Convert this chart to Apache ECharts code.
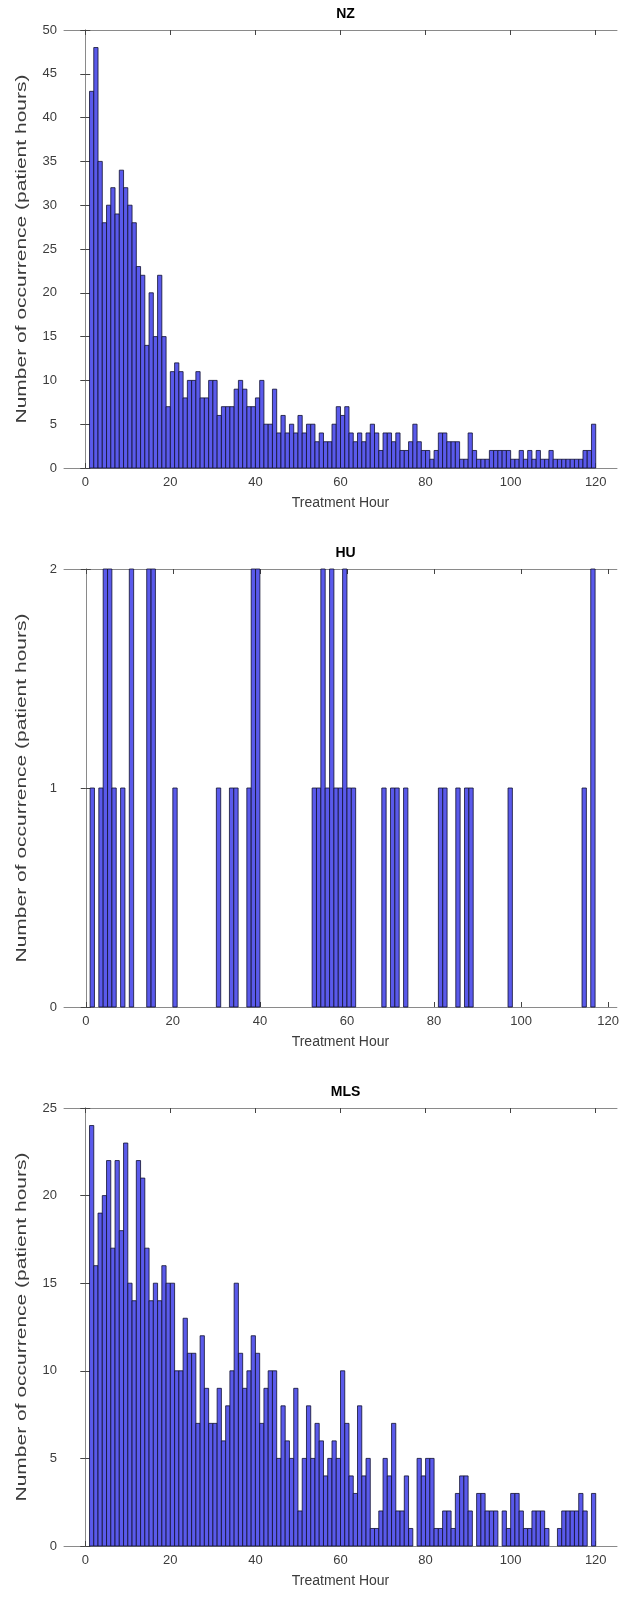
<!DOCTYPE html>
<html><head><meta charset="utf-8">
<script src="https://cdn.jsdelivr.net/npm/echarts@6/dist/echarts.min.js"></script>
<style>html,body{margin:0;padding:0;background:#fff}#c{width:622px;height:1601px}</style>
</head><body><div id="c"></div>
<script>
const panelTitles = ['NZ', 'HU', 'MLS'];
const xLabel = 'Treatment Hour';
const yLabel = 'Number of occurrence (patient hours)';
const xTickValues = [0, 20, 40, 60, 80, 100, 120];
const firstBinEdge = 1;
const binWidth = 1;

const nzCounts = [43,48,35,28,30,32,29,34,32,30,28,23,22,14,20,15,22,15,7,
  11,12,11,8,10,10,11,8,8,10,10,6,7,7,7,9,10,9,7,7,
  8,10,5,5,9,4,6,4,5,4,6,4,5,5,3,4,
  3,3,5,7,6,7,4,3,4,3,4,5,4,2,4,4,3,4,2,2,3,5,3,2,2,
  1,2,4,4,3,3,3,1,1,4,2,1,1,1,2,2,2,2,2,1,
  1,2,1,2,1,2,1,1,2,1,1,1,1,1,1,1,2,2,5];
const huCounts = [1,0,1,2,2,1,0,1,0,2,0,0,0,2,2,0,0,0,0,1,
  0,0,0,0,0,0,0,0,0,1,0,0,1,1,0,0,1,2,2,0,
  0,0,0,0,0,0,0,0,0,0,0,1,1,2,1,2,1,1,2,1,
  1,0,0,0,0,0,0,1,0,1,1,0,1,0,0,0,0,0,0,0,
  1,1,0,0,1,0,1,1,0,0,0,0,0,0,0,0,1,0,0,0,
  0,0,0,0,0,0,0,0,0,0,0,0,0,1,0,2,0,0,0];
const mlsCounts = [24,16,19,20,22,17,22,18,23,15,14,22,21,17,14,15,14,16,15,15,
  10,10,13,11,11,7,12,9,7,7,9,6,8,10,15,11,9,10,12,11,
  7,9,10,10,5,8,6,5,9,2,5,8,5,7,6,4,5,6,5,10,
  7,4,3,8,4,5,1,1,2,5,4,7,2,2,4,1,0,5,4,5,
  5,1,1,2,2,1,3,4,4,2,0,3,3,2,2,2,0,2,1,3,
  3,2,1,1,2,2,2,1,0,0,1,2,2,2,2,3,2,0,3];

const nzYMax = 50, nzYStep = 5;
const huYMax = 2, huYStep = 1;
const mlsYMax = 25, mlsYStep = 5;
const xMins = [-5, -5, -5];
const xMaxs = [125, 122, 125];

const panels = [
  {counts: nzCounts, yMax: nzYMax, yStep: nzYStep},
  {counts: huCounts, yMax: huYMax, yStep: huYStep},
  {counts: mlsCounts, yMax: mlsYMax, yStep: mlsYStep}
];

const gridTops = [30, 569, 1108];
const gridH = 438;
const gridLeft = 64, gridRight = 5;
const plotCenterX = gridLeft + (622 - gridLeft - gridRight) / 2;

const axisColor = '#8a8a8a';
const tickColor = '#444';
const labelColor = '#3c3c3c';
const fontFamily = 'Liberation Sans, Arial, sans-serif';

const grid = [], xAxis = [], yAxis = [], series = [], title = [], graphic = [];
panels.forEach((p, i) => {
  grid.push({left: gridLeft, right: gridRight, top: gridTops[i], height: gridH, containLabel: false});
  title.push({text: panelTitles[i], left: plotCenterX, top: gridTops[i] - 28, textAlign: 'center',
    textStyle: {fontSize: 14, fontWeight: 'bold', color: '#000', fontFamily}});
  const xCommon = {type: 'value', gridIndex: i, min: xMins[i], max: xMaxs[i],
    splitLine: {show: false},
    axisLine: {show: true, onZero: false, lineStyle: {color: axisColor, width: 1}}};
  xAxis.push(Object.assign({}, xCommon, {position: 'bottom',
    axisTick: {show: true, inside: true, length: 5, customValues: xTickValues, lineStyle: {color: tickColor}},
    axisLabel: {show: true, customValues: xTickValues, color: labelColor, fontSize: 13, margin: 8, fontFamily},
    name: xLabel, nameLocation: 'middle', nameGap: 28,
    nameTextStyle: {fontSize: 14, color: labelColor, fontFamily}}));
  xAxis.push(Object.assign({}, xCommon, {position: 'top',
    axisTick: {show: true, inside: true, length: 5, customValues: xTickValues, lineStyle: {color: tickColor}},
    axisLabel: {show: false}}));
  const yCommon = {type: 'value', gridIndex: i, min: 0, max: p.yMax, interval: p.yStep,
    splitLine: {show: false},
    axisLine: {show: true, lineStyle: {color: axisColor, width: 1}},
    axisTick: {show: true, inside: true, length: 5, lineStyle: {color: tickColor}}};
  yAxis.push(Object.assign({}, yCommon, {position: 'left',
    axisLabel: {show: true, color: labelColor, fontSize: 13, margin: 7, fontFamily}}));
  yAxis.push(Object.assign({}, yCommon, {position: 'right', axisLabel: {show: false}}));
  // y-axis title, stretched along its length like the reference
  graphic.push({type: 'text', x: 22, y: gridTops[i] + gridH / 2, rotation: Math.PI / 2, scaleX: 1.5,
    style: {text: yLabel, fontSize: 14, fill: labelColor, fontFamily, align: 'center', verticalAlign: 'middle'}});
  const data = [];
  p.counts.forEach((c, k) => {
    if (c > 0) data.push([firstBinEdge + k * binWidth, firstBinEdge + (k + 1) * binWidth, c]);
  });
  series.push({
    type: 'custom', xAxisIndex: i * 2, yAxisIndex: i * 2, data,
    encode: {x: [0, 1], y: 2},
    renderItem: (params, api) => {
      const a = api.coord([api.value(0), api.value(2)]);
      const b = api.coord([api.value(1), 0]);
      return {type: 'rect', shape: {x: a[0], y: a[1], width: b[0] - a[0], height: b[1] - a[1]},
        style: {fill: '#5a5aeb', stroke: '#101030', lineWidth: 0.8}};
    }
  });
});

const chart = echarts.init(document.getElementById('c'), null, {renderer: 'canvas'});
chart.setOption({animation: false, backgroundColor: '#fff', title, grid, xAxis, yAxis, series, graphic});
</script></body></html>
